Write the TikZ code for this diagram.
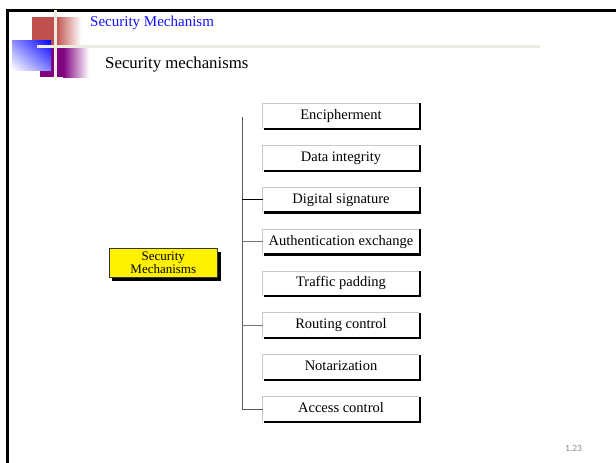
\documentclass[tikz,border=0pt]{standalone}
\usepackage{fontspec}
\setmainfont{Liberation Serif}
\newfontfamily\numfont{Carlito}
\usetikzlibrary{shadings}
\definecolor{brick}{RGB}{192,80,77}
\definecolor{plum}{RGB}{128,0,128}
\definecolor{rule}{RGB}{236,236,224}
\definecolor{hdrblue}{RGB}{20,20,255}
\definecolor{edgegray}{RGB}{200,200,200}
\begin{document}
\begin{tikzpicture}[x=1pt,y=-1pt,
  mechbox/.style={minimum width=156pt, minimum height=25pt, inner sep=0pt,
    font=\fontsize{14.5}{16}\selectfont, text height=9.8pt, text depth=3.2pt},
  boxlight/.style={draw=edgegray, line width=0.8pt},
  boxshadow/.style={draw=black, line width=2.2pt},
  trunk/.style={draw=black!65, line width=0.9pt},
  branch/.style={draw=black!55, line width=0.8pt},
  rootbox/.style={fill=yellow, draw=black!80, line width=0.6pt,
    minimum width=108pt, minimum height=29pt, inner sep=0pt, align=center,
    font=\fontsize{13}{15}\selectfont}]
\useasboundingbox (0,0) rectangle (616,463);
\fill[white] (0,0) rectangle (616,463);

% slide frame
\draw[line width=2.6pt] (616,10.3) -- (7.3,10.3) -- (7.3,463);

% header ornament
\fill[brick] (32,17) rectangle (56,45);
\shade[left color=brick, right color=white] (56,17) rectangle (81,45);
\fill[plum] (40,48) rectangle (63,77);
\shade[left color=plum, right color=white] (63,48) rectangle (89,77);
\shade[upper right=blue, upper left=blue!45!white, lower right=blue!50!white, lower left=white]
  (12,40) rectangle (51,70);
\draw[rule, line width=3pt] (55.5,10) -- (55.5,80);
\draw[rule, line width=3pt] (37,46.5) -- (540,46.5);

% titles
\node[anchor=base west, inner sep=0pt, text=hdrblue, font=\fontsize{15}{17}\selectfont]
  (hdr) at (90,26.5) {Security Mechanism};
\node[anchor=base west, inner sep=0pt, font=\fontsize{16.8}{19}\selectfont]
  (ttl) at (105,68) {Security mechanisms};

% root node with drop shadow
\fill[black] (112,252) rectangle (220.5,281);
\node[rootbox, anchor=north west] (root) at (109,248) {Security\\[-2pt]Mechanisms};

% mechanism boxes
\foreach \n/\y/\t in {1/116/Encipherment, 2/157.9/Data integrity, 3/199.8/Digital signature,
  4/241.7/Authentication exchange, 5/283.6/Traffic padding, 6/325.5/Routing control,
  7/367.4/Notarization, 8/409.3/Access control}{
  \node[mechbox] (m\n) at (341,\y) {\t};
  \draw[boxlight] (m\n.south west) -- (m\n.north west) -- (m\n.north east);
  \draw[boxshadow] ([xshift=1.5pt]m\n.south west) -- ([xshift=1pt]m\n.south east) -- ([xshift=1pt]m\n.north east);
}

% tree connectors
\coordinate (top) at (242,117);
\draw[trunk] (top) -- (top |- m8.west) -- (m8.west);
\draw[draw=black, line width=0.9pt] (top |- m3.west) -- (m3.west);
\draw[branch] (top |- m4.west) -- (m4.west);
\draw[branch] (top |- m6.west) -- (m6.west);

% page number
\node[anchor=base, inner sep=0pt, text=black!45, font=\numfont\fontsize{9.5}{11}\selectfont]
  (pg) at (573.5,451) {1.23};
\end{tikzpicture}
\end{document}
